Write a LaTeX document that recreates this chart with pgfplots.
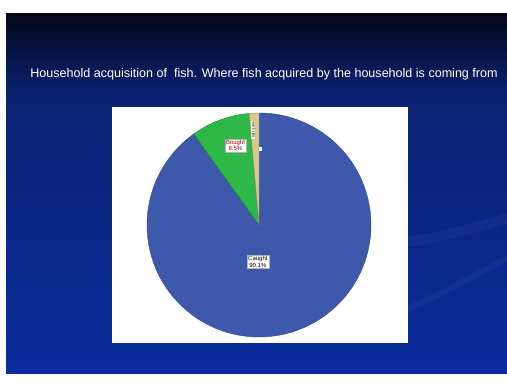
\documentclass[border=0pt]{standalone}
\usepackage{fontspec}
\setmainfont{Liberation Sans}
\usepackage{pgfplots}
\usepackage{pgfplotstable}
\pgfplotsset{compat=1.18}
\definecolor{pieblue}{RGB}{62,88,172}
\definecolor{piegreen}{RGB}{46,184,72}
\definecolor{pietan}{RGB}{215,200,140}
\definecolor{bgtop}{RGB}{4,8,26}
\definecolor{bgmid}{RGB}{10,34,112}
\definecolor{bgbot}{RGB}{10,44,158}

\pgfplotstableread{
label value
Caught 90.1
Bought 8.5
Gift 1.4
}\piedata

\pgfplotstablegetelem{0}{value}\of\piedata \let\vA\pgfplotsretval
\pgfplotstablegetelem{1}{value}\of\piedata \let\vB\pgfplotsretval
\pgfplotstablegetelem{2}{value}\of\piedata \let\vC\pgfplotsretval
\pgfplotstablegetelem{0}{label}\of\piedata \let\lA\pgfplotsretval
\pgfplotstablegetelem{1}{label}\of\piedata \let\lB\pgfplotsretval
\pgfplotstablegetelem{2}{label}\of\piedata \let\lC\pgfplotsretval
\pgfmathsetmacro\aA{90-3.6*\vA}
\pgfmathsetmacro\aB{\aA-3.6*\vB}
\pgfmathsetmacro\aC{\aB-3.6*\vC}

\begin{document}
\begin{tikzpicture}[x=1bp,y=1bp]
\path[use as bounding box] (0,0) rectangle (507,383);
\fill[white] (0,0) rectangle (507,383);
\shade[top color=bgmid, bottom color=bgbot] (6,10) rectangle (507,290);
\shade[top color=bgtop, bottom color=bgmid] (6,290) rectangle (507,369);
% faint swoosh
\draw[white, opacity=0.04, line width=6bp] (330,45) .. controls (400,65) and (460,100) .. (507,125);
\draw[white, opacity=0.035, line width=10bp] (400,140) .. controls (440,145) and (475,155) .. (507,165);
\node[white, font=\fontsize{12.6}{14}\selectfont, anchor=base] at (264,306)
  {Household acquisition of\ \ fish. Where fish acquired by the household is coming from};
% white panel
\fill[white] (112,40) rectangle (408,276);
\begin{axis}[at={(259bp,158bp)}, anchor=origin, hide axis, x=112bp, y=112bp,
  xmin=-1.05, xmax=1.05, ymin=-1.05, ymax=1.05, clip=false]
\fill[pieblue, draw=pieblue!80!black, line width=0.4bp] (axis cs:0,0) -- (axis cs:0,1) arc[start angle=90, end angle=\aA, radius=112bp] -- cycle;
\fill[piegreen, draw=piegreen!70!black, line width=0.4bp] (axis cs:0,0) -- ({axis cs:{cos(\aA)},{sin(\aA)}}) arc[start angle=\aA, end angle=\aB, radius=112bp] -- cycle;
\fill[pietan, draw=pietan!70!black, line width=0.4bp] (axis cs:0,0) -- ({axis cs:{cos(\aB)},{sin(\aB)}}) arc[start angle=\aB, end angle=\aC, radius=112bp] -- cycle;
\node[fill=white, draw=gray!60, inner sep=1.2bp, align=center, font=\fontsize{6}{6.5}\selectfont] at (axis cs:-0.01,-0.33) {\lA\\\vA\%};
\node[fill=white, draw=gray!60, inner sep=1.2bp, align=center, font=\fontsize{6}{6.5}\selectfont, text=red!60!black] at (axis cs:-0.21,0.71) {\lB\\\vB\%};
\node[fill=white!85!pietan, inner sep=0.6bp, rotate=90, font=\fontsize{4}{4.5}\selectfont] at (axis cs:-0.05,0.85) {\lC\ \vC\%};
\fill[white] (axis cs:0,0.66) rectangle (axis cs:0.03,0.7);
\end{axis}
\end{tikzpicture}
\end{document}
